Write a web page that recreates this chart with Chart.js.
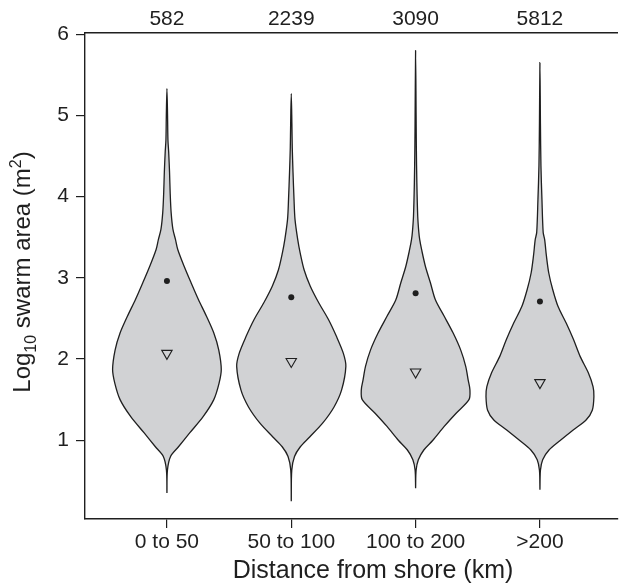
<!DOCTYPE html>
<html>
<head>
<meta charset="utf-8">
<script src="https://cdn.jsdelivr.net/npm/chart.js@4"></script>
<style>
  html, body { margin: 0; padding: 0; background: #fff; }
  #wrap { width: 625px; height: 585px; position: relative; }
</style>
</head>
<body>
<div id="wrap"><canvas id="c" width="625" height="585"></canvas></div>
<script>
// ---- data ----
const categories = ['0 to 50', '50 to 100', '100 to 200', '>200'];
const counts = ['582', '2239', '3090', '5812'];
const yTicks = [1, 2, 3, 4, 5, 6];
const means = [2.96, 2.76, 2.81, 2.71];
const medians = [2.07, 1.97, 1.84, 1.71];

// violin outlines: log10 area levels and half-widths (in category widths)
const violin1Levels = [0.35, 0.63, 0.80, 0.92, 1.09, 1.29, 1.50, 1.70, 1.87, 2.11, 2.32, 2.53, 2.73, 2.94, 3.14, 3.35, 3.47, 3.60, 3.80, 4.05, 4.30, 4.55, 4.70, 5.00, 5.33];
const violin1Widths = [0, 0.004, 0.029, 0.093, 0.183, 0.291, 0.377, 0.419, 0.437, 0.417, 0.377, 0.317, 0.254, 0.194, 0.139, 0.087, 0.069, 0.048, 0.034, 0.026, 0.021, 0.014, 0.008, 0.005, 0];

const violin2Levels = [0.25, 0.63, 0.80, 0.92, 1.04, 1.21, 1.41, 1.62, 1.91, 2.07, 2.28, 2.49, 2.69, 2.90, 3.10, 3.31, 3.47, 3.72, 3.97, 4.30, 4.60, 4.90, 5.27];
const violin2Widths = [0, 0.004, 0.026, 0.073, 0.148, 0.252, 0.344, 0.405, 0.439, 0.419, 0.363, 0.298, 0.222, 0.152, 0.103, 0.071, 0.052, 0.030, 0.022, 0.014, 0.008, 0.005, 0];

const violin3Levels = [0.41, 0.63, 0.76, 0.88, 1.00, 1.17, 1.33, 1.50, 1.62, 1.74, 1.91, 2.11, 2.32, 2.53, 2.73, 2.94, 3.14, 3.35, 3.47, 3.56, 3.76, 4.17, 4.60, 5.00, 5.80];
const violin3Widths = [0, 0.004, 0.022, 0.066, 0.139, 0.230, 0.324, 0.429, 0.437, 0.423, 0.403, 0.363, 0.302, 0.229, 0.159, 0.119, 0.079, 0.048, 0.033, 0.026, 0.017, 0.010, 0.006, 0.004, 0];

const violin4Levels = [0.39, 0.63, 0.76, 0.88, 1.00, 1.13, 1.25, 1.37, 1.54, 1.66, 1.83, 2.03, 2.24, 2.44, 2.65, 2.86, 3.06, 3.27, 3.47, 3.56, 3.97, 4.38, 4.90, 5.65];
const violin4Widths = [0, 0.004, 0.022, 0.073, 0.165, 0.270, 0.371, 0.421, 0.434, 0.427, 0.389, 0.324, 0.270, 0.212, 0.145, 0.102, 0.071, 0.052, 0.038, 0.026, 0.016, 0.008, 0.004, 0];

const violinLevels = [violin1Levels, violin2Levels, violin3Levels, violin4Levels];
const violinWidths = [violin1Widths, violin2Widths, violin3Widths, violin4Widths];

// ---- build chart datasets ----
function violinOutline(i) {
  const lv = violinLevels[i], w = violinWidths[i];
  const pts = [];
  const n = lv.length;
  pts.push({ x: i, y: lv[0] });
  for (let k = 1; k < n - 1; k++) pts.push({ x: i + w[k], y: lv[k] });
  pts.push({ x: i, y: lv[n - 1] });
  for (let k = n - 2; k >= 1; k--) pts.push({ x: i - w[k], y: lv[k] });
  pts.push({ x: i, y: lv[0] });
  return pts;
}

const INK = '#1f1f1f';
const FONT = "'Liberation Sans', Arial, Helvetica, sans-serif";

const datasets = [];
datasets.push({
  label: 'mean',
  data: means.map((v, i) => ({ x: i, y: v })),
  showLine: false,
  pointRadius: 3,
  pointStyle: 'circle',
  backgroundColor: INK,
  borderColor: INK,
  borderWidth: 0,
  order: 0
});
datasets.push({
  label: 'median',
  data: medians.map((v, i) => ({ x: i, y: v })),
  showLine: false,
  pointRadius: 6,
  pointStyle: 'triangle',
  rotation: 180,
  backgroundColor: 'rgba(0,0,0,0)',
  borderColor: INK,
  borderWidth: 1.1,
  order: 0
});
for (let i = 0; i < categories.length; i++) {
  datasets.push({
    label: categories[i],
    data: violinOutline(i),
    showLine: true,
    fill: 'shape',
    tension: 0.3,
    pointRadius: 0,
    backgroundColor: '#d1d2d4',
    borderColor: INK,
    borderWidth: 1.3,
    order: 5
  });
}

const X_MIN = -0.659, X_MAX = 3.627;
const Y_MIN = 0.03, Y_MAX = 6.016;

const titlePlugin = {
  id: 'titles',
  afterDraw(chart) {
    const ctx = chart.ctx;
    ctx.save();
    ctx.fillStyle = INK;
    // x-axis title
    ctx.font = '25px ' + FONT;
    ctx.textAlign = 'center';
    ctx.textBaseline = 'middle';
    ctx.fillText('Distance from shore (km)', 373, 571);
    // y-axis title with subscript / superscript
    const parts = [
      { t: 'Log', s: 24, dy: 0 },
      { t: '10', s: 16, dy: 6 },
      { t: ' swarm area (m', s: 24, dy: 0 },
      { t: '2', s: 16, dy: -9 },
      { t: ')', s: 24, dy: 0 }
    ];
    let total = 0;
    parts.forEach(p => { ctx.font = p.s + 'px ' + FONT; p.w = ctx.measureText(p.t).width; total += p.w; });
    ctx.translate(22, 272);
    ctx.rotate(-Math.PI / 2);
    ctx.textAlign = 'left';
    ctx.textBaseline = 'alphabetic';
    let x = -total / 2;
    parts.forEach(p => {
      ctx.font = p.s + 'px ' + FONT;
      ctx.fillText(p.t, x, 8 + p.dy);
      x += p.w;
    });
    ctx.restore();
  }
};

new Chart(document.getElementById('c'), {
  type: 'scatter',
  data: { datasets },
  options: {
    responsive: false,
    animation: false,
    events: [],
    layout: { padding: 0 },
    plugins: { legend: { display: false }, tooltip: { enabled: false }, title: { display: false } },
    scales: {
      x: {
        type: 'linear',
        position: 'bottom',
        min: X_MIN, max: X_MAX,
        afterBuildTicks(s) { s.ticks = categories.map((c, i) => ({ value: i })); },
        afterFit(s) { s.height = 66; },
        ticks: {
          autoSkip: false, maxRotation: 0, padding: 2,
          color: INK, font: { family: FONT, size: 21 },
          callback: v => categories[v]
        },
        grid: { drawOnChartArea: false, drawTicks: true, tickLength: 9, color: INK, lineWidth: 1.2 },
        border: { display: true, color: INK, width: 1.4 }
      },
      xTop: {
        type: 'linear',
        position: 'top',
        min: X_MIN, max: X_MAX,
        afterBuildTicks(s) { s.ticks = counts.map((c, i) => ({ value: i })); },
        afterFit(s) { s.height = 33; },
        ticks: {
          autoSkip: false, maxRotation: 0, padding: 1,
          color: INK, font: { family: FONT, size: 21 },
          callback: v => counts[v]
        },
        grid: { drawOnChartArea: false, drawTicks: false },
        border: { display: true, color: INK, width: 1.4 }
      },
      y: {
        type: 'linear',
        position: 'left',
        min: Y_MIN, max: Y_MAX,
        afterBuildTicks(s) { s.ticks = yTicks.map(v => ({ value: v })); },
        afterFit(s) { s.width = 85; },
        ticks: {
          padding: 7, color: INK, font: { family: FONT, size: 21 },
          callback: v => String(v)
        },
        grid: { drawOnChartArea: false, drawTicks: true, tickLength: 9, color: INK, lineWidth: 1.2 },
        border: { display: true, color: INK, width: 1.4 }
      }
    }
  },
  plugins: [titlePlugin]
});
</script>
</body>
</html>
